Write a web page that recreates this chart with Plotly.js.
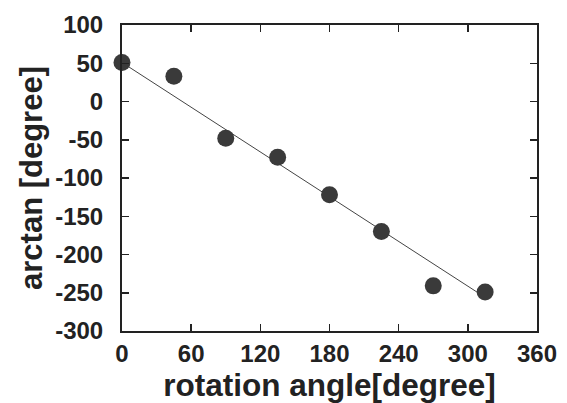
<!DOCTYPE html>
<html><head><meta charset="utf-8">
<script src="https://cdn.plot.ly/plotly-3.0.1.min.js"></script>
<style>html,body{margin:0;padding:0;background:#fff}#chart{width:567px;height:403px}</style>
</head><body><div id="chart"></div>
<script>
const angles = [0, 45, 90, 135, 180, 225, 270, 315];
const arctanVals = [51, 33, -48, -73, -122, -170, -241, -249];
const fitX = [0, 315];
const fitY = [51, -256];
const xTicks = [0, 60, 120, 180, 240, 300, 360];
const yTicks = [100, 50, 0, -50, -100, -150, -200, -250, -300];

const fam = '"Liberation Sans", Arial, sans-serif';
const traces = [
  {x: fitX, y: fitY, mode: 'lines', line: {color: '#444', width: 1}, showlegend: false, hoverinfo: 'skip'},
  {x: angles, y: arctanVals, mode: 'markers', marker: {size: 17, color: '#3a3a3a', line: {width: 0}}, showlegend: false, cliponaxis: false}
];
const axBase = {showgrid: false, zeroline: false, showline: true, linecolor: '#222', linewidth: 2,
  mirror: 'ticks', ticks: 'inside', ticklen: 7, tickwidth: 1.5, tickcolor: '#222', automargin: false};
const layout = {
  width: 567, height: 403,
  margin: {l: 122, r: 30, t: 25, b: 72},
  paper_bgcolor: '#fff', plot_bgcolor: '#fff',
  font: {family: fam, color: '#222', size: 24},
  xaxis: Object.assign({}, axBase, {range: [0, 360], tickmode: 'array', tickvals: xTicks, ticktext: xTicks.map(v => '<b>' + v + '</b>'),
    tickfont: {size: 24, family: fam, color: '#222'}, ticklabelstandoff: 0,
    title: {text: '<b>rotation angle[degree]</b>', font: {size: 31.5, family: fam, color: '#222'}, standoff: 0}}),
  yaxis: Object.assign({}, axBase, {range: [-300, 100], tickmode: 'array', tickvals: yTicks, ticktext: yTicks.map(v => '<b>' + v + '</b>'),
    tickfont: {size: 24, family: fam, color: '#222'}, ticklabelstandoff: 12,
    title: {text: '<b>arctan [degree]</b>', font: {size: 31, family: fam, color: '#222'}, standoff: 3}})
};
Plotly.newPlot('chart', traces, layout, {staticPlot: true, displayModeBar: false});
</script></body></html>
